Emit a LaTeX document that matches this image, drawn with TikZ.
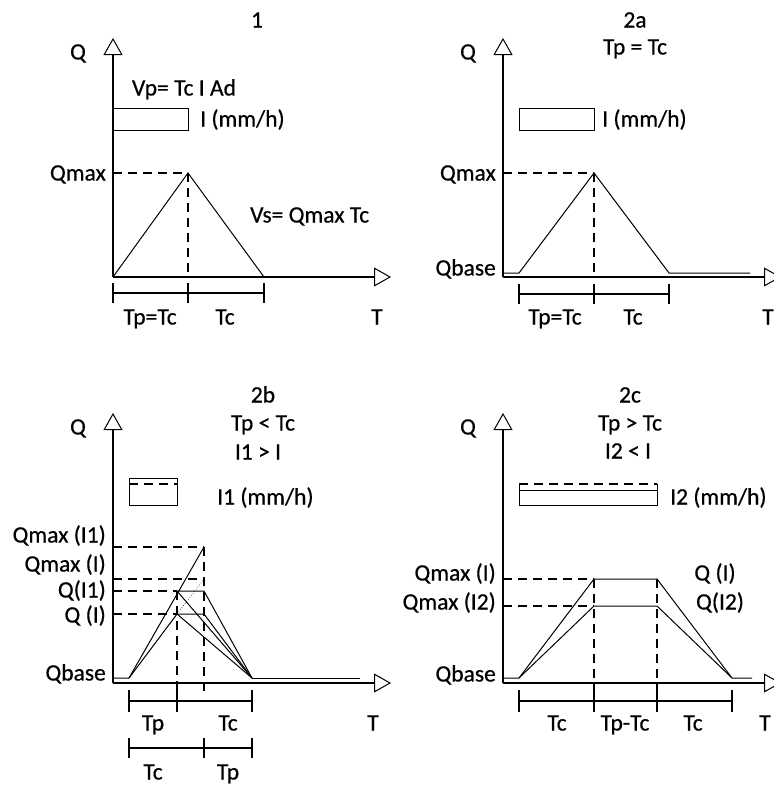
\documentclass[tikz,border=0pt]{standalone}
\usepackage{fontspec}
\setmainfont{Carlito}[FakeBold=0.5]
\usetikzlibrary{arrows.meta}
\begin{document}
\begin{tikzpicture}[x=1pt,y=-1pt,
  axis/.style={line width=1.5pt,-{Triangle[open,length=17pt,width=19pt,line width=1pt]}},
  curve/.style={line width=1pt},
  guide/.style={line width=1.3pt,dash pattern=on 9pt off 6pt},
  bar/.style={line width=1.3pt},
  lbl/.style={inner sep=0pt,text height=15pt,text depth=0pt,font=\fontsize{23.5}{26}\selectfont}]
\useasboundingbox[fill=white] (0,0) rectangle (774,785);

% 1
\coordinate (o1) at (113,277);
\coordinate (y1) at (113,38);
\coordinate (x1) at (391,277);
\coordinate (p1) at (188,173);
\draw[axis] (o1) -- (y1);
\draw[axis] (o1) -- (x1);
\node[lbl] (t1) at (257,20) {1};
\node[lbl] (q1) at (78,52) {Q};
\node[lbl] (vp1) at (184,88) {Vp= Tc I Ad};
\draw[curve] (113,108) rectangle (188,130);
\node[lbl,anchor=west] (i1) at (200,119) {I (mm/h)};
\node[lbl,anchor=east] (qm1) at (106,173) {Qmax};
\node[lbl,anchor=west] (vs1) at (250,215) {Vs= Qmax Tc};
\draw[guide] (113,173) -- (p1);
\draw[guide] (p1) -- (188,277);
\draw[curve] (o1) -- (p1) -- (264,277);
\draw[bar] (113,293) -- (264,293);
\foreach \t in {113,188,264} \draw[bar] (\t,283) -- (\t,303);
\node[lbl] (tp1) at (150,317) {Tp=Tc};
\node[lbl] (tc1) at (225,317) {Tc};
\node[lbl] (tt1) at (377,317) {T};

% 2a
\coordinate (o2) at (503,277);
\coordinate (y2) at (503,38);
\coordinate (x2) at (781,277);
\coordinate (p2) at (594,173);
\draw[axis] (o2) -- (y2);
\draw[axis] (o2) -- (x2);
\node[lbl] (t2) at (635,20) {2a};
\node[lbl] (c2) at (635,47) {Tp = Tc};
\node[lbl] (q2) at (468,52) {Q};
\draw[curve] (519,108) rectangle (594,130);
\node[lbl,anchor=west] (i2) at (602,119) {I (mm/h)};
\node[lbl,anchor=east] (qm2) at (496,173) {Qmax};
\node[lbl,anchor=east] (qb2) at (496,268) {Qbase};
\draw[guide] (503,173) -- (p2);
\draw[guide] (p2) -- (594,277);
\draw[curve] (503,273) -- (519,273) -- (p2) -- (669,273) -- (750,273);
\draw[bar] (519,294) -- (669,294);
\foreach \t in {519,594,669} \draw[bar] (\t,284) -- (\t,304);
\node[lbl] (tp2) at (555,317) {Tp=Tc};
\node[lbl] (tc2) at (633,317) {Tc};
\node[lbl] (tt2) at (768,317) {T};

% 2b
\coordinate (o3) at (113,683);
\coordinate (y3) at (113,413);
\coordinate (x3) at (391,683);
\coordinate (s3) at (129,678);
\coordinate (e3) at (252,678);
\coordinate (p3) at (204,547);
\coordinate (a3) at (177,591);
\coordinate (b3) at (204,591);
\coordinate (c3) at (177,614);
\coordinate (d3) at (204,614);
\draw[axis] (o3) -- (y3);
\draw[axis] (o3) -- (x3);
\node[lbl] (t3) at (263,395) {2b};
\node[lbl] (c3a) at (263,423) {Tp < Tc};
\node[lbl] (c3b) at (258,452) {I1 > I};
\node[lbl] (q3) at (78,427) {Q};
\draw[curve] (129,478) rectangle (177,505);
\draw[guide] (129,484) -- (177,484);
\node[lbl,anchor=west] (i3) at (217,497) {I1 (mm/h)};
\node[lbl,anchor=east] (qa3) at (106,535) {Qmax (I1)};
\node[lbl,anchor=east] (qb3) at (106,564) {Qmax (I)};
\node[lbl,anchor=east] (qc3) at (106,590) {Q(I1)};
\node[lbl,anchor=east] (qd3) at (106,615) {Q (I)};
\node[lbl,anchor=east] (qe3) at (106,673) {Qbase};
\draw[guide] (113,547) -- (p3);
\draw[guide] (113,579) -- (204,579);
\draw[guide] (113,591) -- (a3);
\draw[guide] (113,614) -- (c3);
\draw[guide] (a3) -- (177,690);
\draw[guide] (p3) -- (204,692);
\draw[curve] (113,678) -- (s3) -- (p3);
\draw[curve] (s3) -- (c3);
\draw[line width=0.6pt,dotted] (c3) -- (204,579);
\draw[curve] (a3) -- (b3) -- (e3);
\draw[curve] (c3) -- (d3) -- (e3);
\draw[curve] (a3) -- (e3);
\draw[curve] (c3) -- (e3);
\draw[curve] (e3) -- (360,678);
\draw[bar] (129,701) -- (252,701);
\foreach \t in {129,177,252} \draw[bar] (\t,690) -- (\t,712);
\draw[bar] (129,748) -- (252,748);
\foreach \t in {129,204,252} \draw[bar] (\t,738) -- (\t,758);
\node[lbl] (tp3) at (153,723) {Tp};
\node[lbl] (tc3) at (228,723) {Tc};
\node[lbl] (tt3) at (373,723) {T};
\node[lbl] (tc3b) at (153,772) {Tc};
\node[lbl] (tp3b) at (228,772) {Tp};

% 2c
\coordinate (o4) at (503,683);
\coordinate (y4) at (503,413);
\coordinate (x4) at (781,683);
\coordinate (s4) at (519,678);
\coordinate (e4) at (732,678);
\draw[axis] (o4) -- (y4);
\draw[axis] (o4) -- (x4);
\node[lbl] (t4) at (630,395) {2c};
\node[lbl] (c4a) at (630,423) {Tp > Tc};
\node[lbl] (c4b) at (628,451) {I2 < I};
\node[lbl] (q4) at (468,427) {Q};
\draw[curve] (519,490) rectangle (657,505);
\draw[guide] (519,484) -- (657,484);
\draw[curve] (519,484) -- (519,490) (657,484) -- (657,490);
\node[lbl,anchor=west] (i4) at (670,497) {I2 (mm/h)};
\node[lbl,anchor=east] (qa4) at (496,573) {Qmax (I)};
\node[lbl,anchor=east] (qb4) at (496,602) {Qmax (I2)};
\node[lbl,anchor=east] (qe4) at (496,674) {Qbase};
\node[lbl] (qi4) at (715,573) {Q (I)};
\node[lbl] (qj4) at (720,602) {Q(I2)};
\draw[guide] (503,579) -- (594,579);
\draw[guide] (503,606) -- (594,606);
\draw[guide] (594,579) -- (594,700);
\draw[guide] (657,579) -- (657,700);
\draw[curve] (503,678) -- (s4) -- (594,579) -- (657,579) -- (e4) -- (752,678);
\draw[curve] (s4) -- (594,606) -- (657,606) -- (e4);
\draw[bar] (519,701) -- (732,701);
\foreach \t in {519,594,657,732} \draw[bar] (\t,690) -- (\t,712);
\node[lbl] (tc4) at (557,723) {Tc};
\node[lbl] (tm4) at (625,723) {Tp-Tc};
\node[lbl] (tc4b) at (693,723) {Tc};
\node[lbl] (tt4) at (765,723) {T};
\end{tikzpicture}
\end{document}
